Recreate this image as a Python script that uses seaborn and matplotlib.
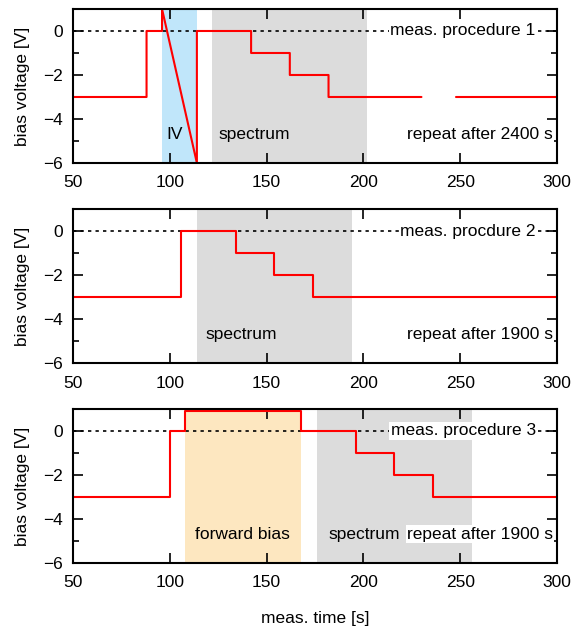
import numpy as np
import pandas as pd
import matplotlib
matplotlib.use("Agg")
import matplotlib.pyplot as plt
import seaborn as sns
from matplotlib.ticker import MultipleLocator

sns.set_style("ticks")
plt.rcParams["font.family"] = ["Liberation Sans", "DejaVu Sans"]
plt.rcParams["text.color"] = "black"
plt.rcParams["axes.labelcolor"] = "black"
plt.rcParams["xtick.color"] = "black"
plt.rcParams["ytick.color"] = "black"

# step profiles (time [s], bias [V]); seg marks separate line pieces
p1_time = [50, 88, 88, 96, 96, 114, 114, 142, 142, 162, 162, 182, 182, 230, 248, 300]
p1_volt = [-3, -3, 0, 0, 1, -6, 0, 0, -1, -1, -2, -2, -3, -3, -3, -3]
p1_seg = [0] * 14 + [1] * 2

p2_time = [50, 106, 106, 134, 134, 154, 154, 174, 174, 300]
p2_volt = [-3, -3, 0, 0, -1, -1, -2, -2, -3, -3]

p3_time = [50, 100, 100, 108, 108, 168, 168, 196, 196, 216, 216, 236, 236, 300]
p3_volt = [-3, -3, 0, 0, 0.9, 0.9, 0, 0, -1, -1, -2, -2, -3, -3]

# shaded regions: (start, end, colour) and their labels (text, x)
p1_spans = [(96, 114, "#c0e6fa"), (122, 202, "#dcdcdc")]
p1_labels = [("IV", 102.5), ("spectrum", 143.5)]
p2_spans = [(114, 194, "#dcdcdc")]
p2_labels = [("spectrum", 137)]
p3_spans = [(108, 168, "#fde7c0"), (176, 256, "#dcdcdc")]
p3_labels = [("forward bias", 137.5), ("spectrum", 200.5)]

titles = ["meas. procedure 1", "meas. procdure 2", "meas. procedure 3"]
repeats = ["repeat after 2400 s", "repeat after 1900 s", "repeat after 1900 s"]

panels = [
    (pd.DataFrame({"t": p1_time, "v": p1_volt, "seg": p1_seg}), p1_spans, p1_labels),
    (pd.DataFrame({"t": p2_time, "v": p2_volt, "seg": 0}), p2_spans, p2_labels),
    (pd.DataFrame({"t": p3_time, "v": p3_volt, "seg": 0}), p3_spans, p3_labels),
]

fig = plt.figure(figsize=(5.82, 6.33), dpi=100)
bottoms = [0.7425, 0.4265, 0.1106]
fs = 12.5

for i, ((df, spans, labels), bottom) in enumerate(zip(panels, bottoms)):
    ax = fig.add_axes([0.1254, bottom, 0.8316, 0.2433])
    for x0, x1, col in spans:
        ax.axvspan(x0, x1, color=col, lw=0, zorder=0)
    for lab, x in labels:
        ax.text(x, -4.7, lab, ha="center", va="center", fontsize=fs, zorder=3)
    ax.axhline(0, color="black", lw=1.2, ls=(0, (2, 2.5)), zorder=1)
    sns.lineplot(data=df, x="t", y="v", units="seg", estimator=None,
                 sort=False, color="red", lw=1.5, ax=ax, zorder=2)
    ax.text(289, 0, titles[i], ha="right", va="center", fontsize=fs,
            bbox=dict(facecolor="white", edgecolor="none", pad=1), zorder=3)
    ax.text(298, -4.7, repeats[i], ha="right", va="center", fontsize=fs,
            bbox=dict(facecolor="white", edgecolor="none", pad=1), zorder=3)

    ax.set_xlim(50, 300)
    ax.set_ylim(-6, 1)
    ax.xaxis.set_major_locator(MultipleLocator(50))
    ax.yaxis.set_major_locator(MultipleLocator(2))
    ax.yaxis.set_minor_locator(MultipleLocator(1))
    ax.tick_params(which="both", direction="in", top=True, right=True,
                   labelsize=fs, width=1.2, color="black")
    ax.tick_params(which="major", length=7)
    ax.tick_params(which="minor", length=4)
    ax.tick_params(axis="x", pad=9)
    ax.tick_params(axis="y", pad=7)
    for sp in ax.spines.values():
        sp.set_linewidth(1.5)
        sp.set_color("black")
    ax.set_ylabel("bias voltage [V]", fontsize=fs, labelpad=10)
    ax.set_xlabel("")
    if i == 2:
        ax.set_xlabel("meas. time [s]", fontsize=fs, labelpad=15)

fig.savefig("out.png", dpi=100)
